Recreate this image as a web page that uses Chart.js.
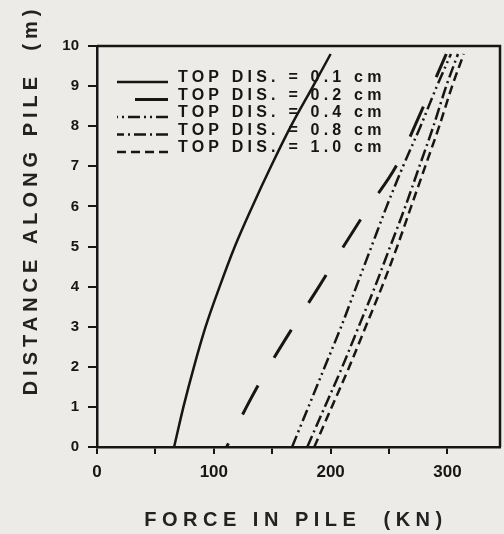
<!DOCTYPE html>
<html>
<head>
<meta charset="utf-8">
<script src="https://cdn.jsdelivr.net/npm/chart.js@4.4.1/dist/chart.umd.min.js"></script>
<style>
  html, body { margin: 0; padding: 0; background: #ecebe7; }
  canvas { display: block; }
</style>
</head>
<body>
<canvas id="pile" width="504" height="534"></canvas>
<script>
// depth along pile (m) for every curve
const depths = [0, 1, 2, 3, 4, 5, 6, 7, 8, 9, 9.8];

// force in pile (kN) for each top displacement
const force01 = [66, 74, 83, 93, 105, 118, 133, 149, 166, 185, 200];
const force02 = [111, 128, 147, 168, 190, 211, 233, 256, 272, 287, 299];
const force04 = [167, 181, 195, 209, 222, 235, 248, 262, 277, 291, 303];
const force08 = [180, 195, 210, 224, 238, 251, 264, 276, 288, 299, 309];
const force10 = [186, 201, 216, 230, 244, 257, 269, 281, 293, 304, 314];

const topDisp = ['0.1', '0.2', '0.4', '0.8', '1.0'];
const xLabels = [0, 100, 200, 300];

const INK = '#161616';

const toPoints = (forces) => forces.map((f, i) => ({ x: f, y: depths[i] }));

const curve = (idx, forces, dash, width, offset = 0) => ({
  label: 'TOP DIS. = ' + topDisp[idx] + ' cm',
  data: toPoints(forces),
  showLine: true,
  borderColor: INK,
  borderWidth: width,
  borderDash: dash,
  borderDashOffset: offset,
  borderCapStyle: 'butt',
  pointRadius: 0,
  cubicInterpolationMode: 'monotone',
});

// axis titles (spaced out like the plotter lettering)
const axisTitles = {
  id: 'axisTitles',
  afterDraw(chart) {
    const ctx = chart.ctx;
    ctx.save();
    ctx.fillStyle = '#222';
    ctx.font = 'bold 20px "Liberation Sans", Arial, sans-serif';
    ctx.textAlign = 'center';
    ctx.textBaseline = 'middle';
    ctx.letterSpacing = '5.5px';
    ctx.fillText('FORCE IN PILE  (KN)', 296, 520);
    ctx.letterSpacing = '5px';
    ctx.translate(31, 200);
    ctx.rotate(-Math.PI / 2);
    ctx.fillText('DISTANCE ALONG PILE  (m)', 0, 0);
    ctx.restore();
  },
};

// top and right frame lines
const frame = {
  id: 'frame',
  afterDraw(chart) {
    const { ctx, chartArea: a } = chart;
    ctx.save();
    ctx.strokeStyle = INK;
    ctx.lineWidth = 2.5;
    ctx.beginPath();
    ctx.moveTo(a.left, a.top);
    ctx.lineTo(a.right, a.top);
    ctx.lineTo(a.right, a.bottom);
    ctx.stroke();
    ctx.restore();
  },
};

// legend inside the plot, line sample drawn right to left
const insideLegend = {
  id: 'insideLegend',
  afterDraw(chart) {
    const ctx = chart.ctx;
    ctx.save();
    chart.data.datasets.forEach((ds, i) => {
      const y = 78 + i * 17.5;
      ctx.strokeStyle = INK;
      ctx.lineWidth = ds.borderWidth;
      ctx.setLineDash(ds.borderDash);
      ctx.beginPath();
      ctx.moveTo(168, y + 4);
      ctx.lineTo(117, y + 4);
      ctx.stroke();
      ctx.setLineDash([]);
      ctx.fillStyle = INK;
      ctx.font = 'bold 16px "Liberation Sans", Arial, sans-serif';
      ctx.letterSpacing = '4.2px';
      ctx.textAlign = 'left';
      ctx.textBaseline = 'middle';
      ctx.fillText(ds.label, 178, y);
    });
    ctx.restore();
  },
};

new Chart(document.getElementById('pile'), {
  type: 'scatter',
  data: {
    datasets: [
      curve(0, force01, [], 2.5),
      curve(1, force02, [33, 32], 3, 29),
      curve(2, force04, [12, 4, 2, 4, 2, 4], 2.5),
      curve(3, force08, [12, 4, 2, 4], 2.5),
      curve(4, force10, [9, 5], 2.5),
    ],
  },
  options: {
    responsive: false,
    animation: false,
    layout: { padding: { left: 0, top: 46, right: 4, bottom: 0 } },
    plugins: {
      legend: { display: false },
      tooltip: { enabled: false },
    },
    scales: {
      x: {
        type: 'linear',
        min: 0,
        max: 345,
        afterBuildTicks: (s) => { s.ticks = s.ticks.filter((t) => t.value % 50 === 0); },
        afterFit: (s) => { s.height = 87; },
        ticks: {
          stepSize: 50,
          color: INK,
          padding: 8,
          font: { family: '"Liberation Sans", Arial, sans-serif', size: 17, weight: 'bold' },
          callback: (v) => (xLabels.includes(v) ? String(v) : ''),
          maxRotation: 0,
          autoSkip: false,
        },
        grid: { drawOnChartArea: false, drawTicks: true, tickLength: 7, color: INK, lineWidth: 2 },
        border: { color: INK, width: 2.5 },
      },
      y: {
        type: 'linear',
        min: 0,
        max: 10,
        afterFit: (s) => { s.width = 97; },
        ticks: {
          stepSize: 1,
          color: INK,
          padding: 9,
          font: { family: '"Liberation Sans", Arial, sans-serif', size: 15, weight: 'bold' },
        },
        grid: { drawOnChartArea: false, drawTicks: true, tickLength: 9, color: INK, lineWidth: 2 },
        border: { color: INK, width: 2.5 },
      },
    },
  },
  plugins: [axisTitles, frame, insideLegend],
});
</script>
</body>
</html>
